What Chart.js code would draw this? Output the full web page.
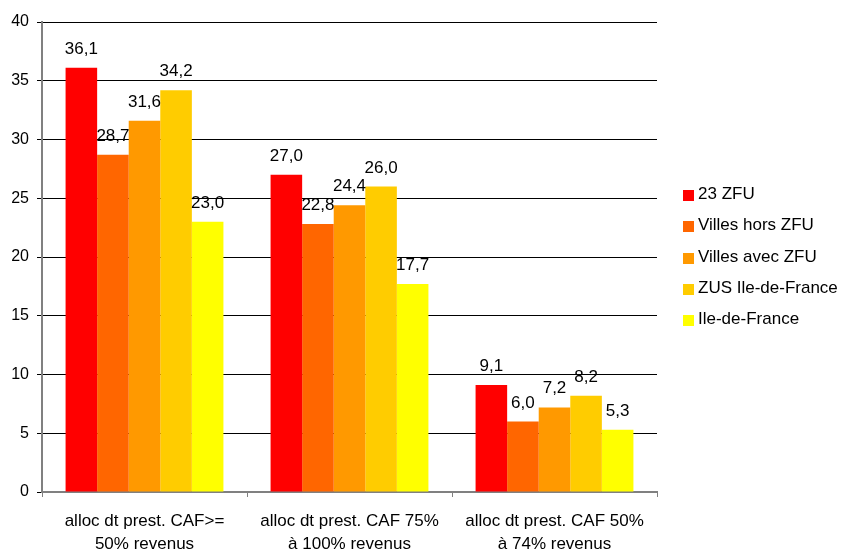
<!DOCTYPE html>
<html>
<head>
<meta charset="utf-8">
<script src="https://cdn.jsdelivr.net/npm/chart.js@4"></script>
<style>
    body { margin: 0; background: #fff; font-family: "Liberation Sans", Arial, sans-serif; }
    .wrap { position: relative; width: 848px; height: 553px; }
    #legend { position: absolute; left: 683px; top: 184px; }
    .legend-item { height: 31.3px; display: flex; align-items: flex-start; font-size: 17px; line-height: 20px; color: #000; }
    .legend-color { width: 11px; height: 11px; margin-top: 6px; margin-right: 4px; }
</style>
</head>
<body>
<div class="wrap">
    <canvas id="chart" width="848" height="553"></canvas>
    <div id="legend"></div>
</div>
<script>
var categories = [
    ['alloc dt prest. CAF>=', '50% revenus'],
    ['alloc dt prest. CAF 75%', '\u00e0 100% revenus'],
    ['alloc dt prest. CAF 50%', '\u00e0 74% revenus']
];
var seriesNames = ['23 ZFU', 'Villes hors ZFU', 'Villes avec ZFU', 'ZUS Ile-de-France', 'Ile-de-France'];
var seriesColors = ['#ff0000', '#ff6600', '#ff9900', '#ffcc00', '#ffff00'];
var zfu23 = [36.1, 27.0, 9.1];
var villesHors = [28.7, 22.8, 6.0];
var villesAvec = [31.6, 24.4, 7.2];
var zusIdf = [34.2, 26.0, 8.2];
var idf = [23.0, 17.7, 5.3];
var seriesValues = [zfu23, villesHors, villesAvec, zusIdf, idf];

var FONT = '"Liberation Sans", Arial, sans-serif';

var datasets = [];
for (var i = 0; i < seriesNames.length; i++) {
    datasets.push({
        label: seriesNames[i],
        data: seriesValues[i],
        backgroundColor: seriesColors[i],
        borderWidth: 0,
        categoryPercentage: 0.77,
        barPercentage: 1
    });
}

var valueLabels = {
    id: 'valueLabels',
    afterDatasetsDraw: function (chart) {
        var ctx = chart.ctx;
        ctx.save();
        ctx.font = '17px ' + FONT;
        ctx.fillStyle = '#000';
        ctx.textAlign = 'center';
        ctx.textBaseline = 'alphabetic';
        chart.data.datasets.forEach(function (ds, di) {
            chart.getDatasetMeta(di).data.forEach(function (bar, j) {
                ctx.fillText(ds.data[j].toFixed(1).replace('.', ','), bar.x, bar.y - 14);
            });
        });
        ctx.restore();
    }
};

new Chart(document.getElementById('chart').getContext('2d'), {
    type: 'bar',
    data: { labels: categories, datasets: datasets },
    options: {
        responsive: false,
        animation: false,
        layout: { padding: { top: 22, right: 191, left: 0, bottom: 0 } },
        plugins: {
            legend: { display: false },
            tooltip: { enabled: false }
        },
        scales: {
            x: {
                afterFit: function (scale) { scale.height = 61; },
                grid: {
                    offset: true,
                    drawOnChartArea: false,
                    drawTicks: true,
                    tickLength: 5,
                    color: '#808080'
                },
                border: { color: '#808080', width: 2 },
                ticks: {
                    color: '#000',
                    padding: 13,
                    maxRotation: 0,
                    font: { family: FONT, size: 17, lineHeight: 1.33 }
                }
            },
            y: {
                min: 0,
                max: 40,
                afterFit: function (scale) { scale.width = 42; },
                grid: {
                    color: '#000',
                    tickLength: 5,
                    drawTicks: true
                },
                border: { color: '#808080', width: 2 },
                ticks: {
                    stepSize: 5,
                    color: '#000',
                    padding: 8,
                    font: { family: FONT, size: 16 }
                }
            }
        }
    },
    plugins: [valueLabels]
});

var legendHtml = '';
for (var k = 0; k < seriesNames.length; k++) {
    legendHtml += '<div class="legend-item">' +
        '<span class="legend-color" style="background:' + seriesColors[k] + '"></span>' +
        '<span class="legend-label">' + seriesNames[k] + '</span>' +
        '</div>';
}
document.getElementById('legend').innerHTML = legendHtml;
</script>
</body>
</html>
